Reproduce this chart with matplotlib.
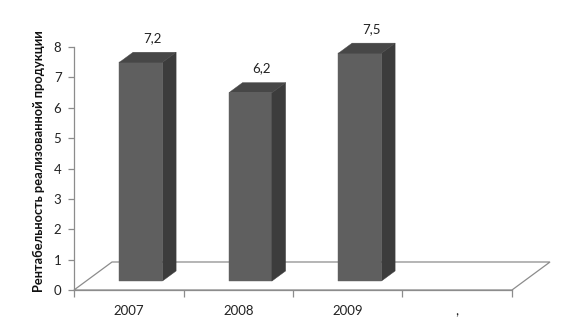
import matplotlib
matplotlib.use("Agg")
import matplotlib.pyplot as plt
from matplotlib.patches import Polygon

# -------- Data --------
categories = ["2007", "2008", "2009", ","]
values = [7.2, 6.2, 7.5, None]
value_labels = ["7,2", "6,2", "7,5", ""]
y_ticks = [0, 1, 2, 3, 4, 5, 6, 7, 8]
y_label = "Рентабельность реализованной продукции"

# -------- Style --------
FRONT = "#5f5f5f"
SIDE = "#3c3c3c"
TOP = "#474747"
LINE = "#8c8c8c"
DX, DY = 0.347, 0.922     # full floor depth in data units
D0, D1 = 0.32, 0.68       # bar front / back depth fraction
BAR_W = 0.393

plt.rcParams["font.family"] = ["Lato", "DejaVu Sans"]

fig = plt.figure(figsize=(5.78, 3.36), dpi=100)
ax = fig.add_axes([74 / 578, 46 / 336, 438 / 578, 243 / 336])
ax.set_xlim(0, len(categories))
ax.set_ylim(0, 8)

for s in ["top", "right", "bottom"]:
    ax.spines[s].set_visible(False)
ax.spines["left"].set_color(LINE)
ax.spines["left"].set_linewidth(0.9)

n = len(categories)

# floor (oblique)
floor = Polygon([(0, 0), (n, 0), (n + DX, DY), (DX, DY)], closed=True,
                facecolor="white", edgecolor=LINE, linewidth=0.9, clip_on=False, zorder=1)
ax.add_patch(floor)
ax.plot([0, n], [0, 0], color=LINE, lw=0.9, clip_on=False, zorder=2)

# bars
for i, v in enumerate(values):
    if v is None:
        continue
    c = i + 0.5
    x0 = c - BAR_W / 2 + D0 * DX
    x1 = c + BAR_W / 2 + D0 * DX
    y0 = D0 * DY
    y1 = y0 + v
    ox, oy = (D1 - D0) * DX, (D1 - D0) * DY
    front = Polygon([(x0, y0), (x1, y0), (x1, y1), (x0, y1)], facecolor=FRONT,
                    edgecolor=FRONT, lw=0.3, clip_on=False, zorder=3)
    side = Polygon([(x1, y0), (x1 + ox, y0 + oy), (x1 + ox, y1 + oy), (x1, y1)],
                   facecolor=SIDE, edgecolor=SIDE, lw=0.3, clip_on=False, zorder=3)
    top = Polygon([(x0, y1), (x1, y1), (x1 + ox, y1 + oy), (x0 + ox, y1 + oy)],
                  facecolor=TOP, edgecolor=TOP, lw=0.3, clip_on=False, zorder=3)
    for p in (front, side, top):
        ax.add_patch(p)
    ax.annotate(value_labels[i], (c + D1 * DX - 0.02, y1 + oy), xytext=(0, 6),
                textcoords="offset points", ha="center", va="bottom",
                fontsize=9.5, color="#222222", annotation_clip=False)

# axes ticks
ax.set_yticks(y_ticks)
ax.set_yticklabels([str(t) for t in y_ticks])
ax.tick_params(axis="y", direction="out", length=4, width=0.9, color=LINE,
               labelsize=9.5, labelcolor="#222222", pad=5)
ax.set_xticks(range(n + 1))
ax.set_xticklabels([])
ax.tick_params(axis="x", direction="out", length=5, width=0.9, color=LINE)
ax.xaxis.set_ticks_position("bottom")
for i, lab in enumerate(categories):
    ax.annotate(lab, (i + 0.5, 0), xytext=(0, -15), textcoords="offset points",
                ha="center", va="center", fontsize=9.5, color="#222222",
                annotation_clip=False)

ax.set_ylabel(y_label, fontsize=9.3, fontweight="bold", color="#111111")
ax.yaxis.set_label_coords(-0.066, 0.53)

fig.savefig("out.png", dpi=100)
